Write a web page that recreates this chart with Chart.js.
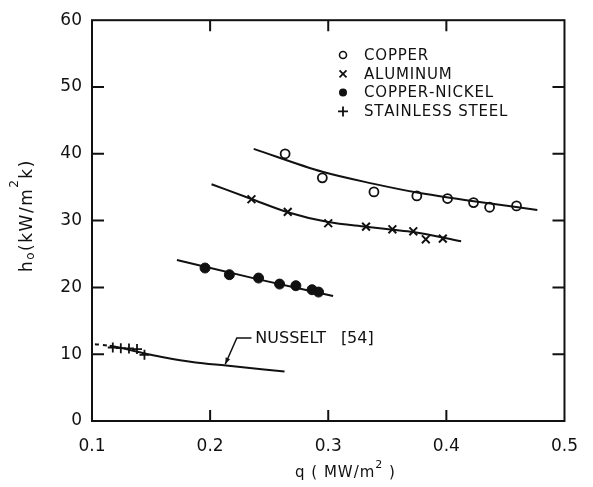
<!DOCTYPE html>
<html lang="en">
<head>
<meta charset="UTF-8">
<title>h0 vs q</title>
<style>
  body { margin: 0; background: #fff; }
  #wrap { width: 593px; height: 487px; }
</style>
<script src="https://cdn.jsdelivr.net/npm/chart.js"></script>
</head>
<body>
<div id="wrap"><canvas id="chart" width="593" height="487"></canvas></div>
<script>
// values: q in MW/m2, h0 in kW/m2K
const copperQ = [0.2635, 0.295, 0.3387, 0.375, 0.401, 0.423, 0.4366, 0.4594];
const copperH = [40.0, 36.4, 34.3, 33.7, 33.3, 32.7, 32.0, 32.2];
const aluminumQ = [0.235, 0.2657, 0.300, 0.332, 0.3543, 0.372, 0.3826, 0.397];
const aluminumH = [33.2, 31.3, 29.6, 29.1, 28.7, 28.4, 27.2, 27.3];
const cuNiQ = [0.1957, 0.2163, 0.241, 0.2588, 0.2726, 0.2863, 0.2918];
const cuNiH = [22.9, 21.9, 21.4, 20.5, 20.25, 19.65, 19.3];
const steelQ = [0.1176, 0.1244, 0.1313, 0.1381, 0.1444];
const steelH = [11.0, 10.9, 10.86, 10.77, 9.9];

// fitted curves drawn through the data
const copperFitQ = [0.2369, 0.2951, 0.3387, 0.3752, 0.4232, 0.4770];
const copperFitH = [40.74, 37.3, 35.5, 34.2, 32.9, 31.6];
const aluminumFitQ = [0.2012, 0.235, 0.2657, 0.300, 0.332, 0.3543, 0.372, 0.4125];
const aluminumFitH = [35.45, 33.23, 31.26, 29.78, 29.08, 28.64, 28.3, 26.92];
const cuNiFitQ = [0.1719, 0.241, 0.3041];
const cuNiFitH = [24.1, 21.2, 18.7];
const nusseltQ = [0.1025, 0.115, 0.145, 0.1615, 0.1862, 0.2136, 0.263];
const nusseltH = [11.5, 11.25, 10.1, 9.5, 8.8, 8.3, 7.4];

const xTicks = [0.1, 0.2, 0.3, 0.4, 0.5];
const yTicks = [0, 10, 20, 30, 40, 50, 60];
const legendLabels = ['COPPER', 'ALUMINUM', 'COPPER-NICKEL', 'STAINLESS STEEL'];

const INK = '#111';
const FONT = '"DejaVu Sans", Arial, sans-serif';

const toPts = (xs, ys) => xs.map((x, i) => ({ x: x, y: ys[i] }));

function spaced(ctx, text, x, y, sp) {
    for (const ch of text) {
        ctx.fillText(ch, x, y);
        x += ctx.measureText(ch).width + sp;
    }
    return x;
}

function marker(ctx, kind, x, y) {
    ctx.beginPath();
    if (kind === 0) {
        ctx.lineWidth = 1.6;
        ctx.arc(x, y, 3.5, 0, Math.PI * 2);
        ctx.stroke();
    } else if (kind === 1) {
        ctx.lineWidth = 1.8;
        ctx.moveTo(x - 3.5, y - 3.5); ctx.lineTo(x + 3.5, y + 3.5);
        ctx.moveTo(x + 3.5, y - 3.5); ctx.lineTo(x - 3.5, y + 3.5);
        ctx.stroke();
    } else if (kind === 2) {
        ctx.arc(x, y, 4, 0, Math.PI * 2);
        ctx.fill();
    } else {
        ctx.lineWidth = 1.8;
        ctx.moveTo(x - 5, y); ctx.lineTo(x + 5, y);
        ctx.moveTo(x, y - 5); ctx.lineTo(x, y + 5);
        ctx.stroke();
    }
}

const decor = {
    id: 'decor',
    afterDraw(chart) {
        const { ctx, chartArea: a, scales } = chart;
        const sx = scales.x, sy = scales.y;
        ctx.save();
        ctx.strokeStyle = INK;
        ctx.fillStyle = INK;

        // frame
        ctx.lineWidth = 2;
        ctx.strokeRect(a.left, a.top, a.right - a.left, a.bottom - a.top);

        // inward ticks on all four sides
        ctx.beginPath();
        xTicks.slice(1, -1).forEach(v => {
            const px = sx.getPixelForValue(v);
            ctx.moveTo(px, a.bottom); ctx.lineTo(px, a.bottom - 11);
            ctx.moveTo(px, a.top); ctx.lineTo(px, a.top + 11);
        });
        yTicks.slice(1, -1).forEach(v => {
            const py = sy.getPixelForValue(v);
            ctx.moveTo(a.left, py); ctx.lineTo(a.left + 12, py);
            ctx.moveTo(a.right, py); ctx.lineTo(a.right - 12, py);
        });
        ctx.stroke();

        // legend
        ctx.font = '15px ' + FONT;
        ctx.textBaseline = 'middle';
        legendLabels.forEach((t, i) => {
            const y = 55 + i * 18.8;
            marker(ctx, i, 343, y);
            spaced(ctx, t, 364, y + 1, 0.8);
        });

        // Nusselt label with leader arrow
        const lx = [0.235, 0.2226, 0.2128];
        const ly = [12.44, 12.44, 8.5];
        ctx.lineWidth = 1.5;
        ctx.beginPath();
        lx.forEach((q, i) => {
            const px = sx.getPixelForValue(q), py = sy.getPixelForValue(ly[i]);
            i ? ctx.lineTo(px, py) : ctx.moveTo(px, py);
        });
        ctx.stroke();
        const tipX = sx.getPixelForValue(lx[2]), tipY = sy.getPixelForValue(ly[2]);
        const ang = Math.atan2(tipY - sy.getPixelForValue(ly[1]), tipX - sx.getPixelForValue(lx[1]));
        ctx.beginPath();
        ctx.moveTo(tipX, tipY);
        ctx.lineTo(tipX - 7 * Math.cos(ang - 0.35), tipY - 7 * Math.sin(ang - 0.35));
        ctx.lineTo(tipX - 7 * Math.cos(ang + 0.35), tipY - 7 * Math.sin(ang + 0.35));
        ctx.closePath();
        ctx.fill();
        ctx.font = '16px ' + FONT;
        ctx.textBaseline = 'middle';
        ctx.fillText('NUSSELT', sx.getPixelForValue(0.2383), sy.getPixelForValue(12.37));
        ctx.fillText('[54]', sx.getPixelForValue(0.3107), sy.getPixelForValue(12.37));

        // x axis title: q (MW/m2)
        ctx.textBaseline = 'alphabetic';
        ctx.font = '15px ' + FONT;
        let x = spaced(ctx, 'q ( MW/m', 295, 477, 1);
        ctx.font = '11px ' + FONT;
        x = spaced(ctx, '2', x, 468, 1);
        ctx.font = '15px ' + FONT;
        spaced(ctx, ' )', x, 477, 1);

        // y axis title: h0 (kW/m2 k)
        ctx.translate(32, 272);
        ctx.rotate(-Math.PI / 2);
        ctx.font = '17px ' + FONT;
        x = spaced(ctx, 'h', 0, 0, 1.5);
        ctx.font = '12px ' + FONT;
        x = spaced(ctx, 'o', x, 2, 1.5);
        ctx.font = '17px ' + FONT;
        x = spaced(ctx, '(kW/m', x, 0, 1.5);
        ctx.font = '12px ' + FONT;
        x = spaced(ctx, '2', x, -14, 1.5);
        ctx.font = '17px ' + FONT;
        spaced(ctx, 'k)', x, 0, 1.5);

        ctx.restore();
    }
};

const fitLine = (xs, ys) => ({
    data: toPts(xs, ys),
    showLine: true,
    pointRadius: 0,
    borderColor: INK,
    borderWidth: 2,
    cubicInterpolationMode: 'monotone',
    fill: false
});

const points = (xs, ys, style, extra) => Object.assign({
    data: toPts(xs, ys),
    showLine: false,
    pointStyle: style,
    borderColor: INK,
    backgroundColor: INK
}, extra);

const nusselt = fitLine(nusseltQ, nusseltH);
nusselt.segment = { borderDash: c => c.p0DataIndex === 0 ? [4, 4] : undefined };

new Chart(document.getElementById('chart'), {
    type: 'scatter',
    data: {
        datasets: [
            fitLine(copperFitQ, copperFitH),
            fitLine(aluminumFitQ, aluminumFitH),
            fitLine(cuNiFitQ, cuNiFitH),
            nusselt,
            points(copperQ, copperH, 'circle', { pointRadius: 4.5, borderWidth: 1.8, backgroundColor: '#fff' }),
            points(aluminumQ, aluminumH, 'crossRot', { pointRadius: 5.5, borderWidth: 2 }),
            points(cuNiQ, cuNiH, 'circle', { pointRadius: 5, borderWidth: 1 }),
            points(steelQ, steelH, 'cross', { pointRadius: 5, borderWidth: 1.8 })
        ]
    },
    options: {
        responsive: false,
        animation: false,
        events: [],
        layout: { padding: { top: 16, right: 15, left: 0, bottom: 0 } },
        plugins: { legend: { display: false }, tooltip: { enabled: false } },
        scales: {
            x: {
                type: 'linear',
                min: 0.1,
                max: 0.5,
                border: { display: false },
                grid: { display: false, drawTicks: false },
                ticks: {
                    stepSize: 0.1,
                    padding: 15,
                    color: INK,
                    font: { family: FONT, size: 17 },
                    callback: v => v.toFixed(1)
                },
                afterFit: s => { s.height = 66; }
            },
            y: {
                min: 0,
                max: 60,
                border: { display: false },
                grid: { display: false, drawTicks: false },
                ticks: {
                    stepSize: 10,
                    padding: 10,
                    color: INK,
                    font: { family: FONT, size: 17 }
                },
                afterFit: s => { s.width = 92; }
            }
        }
    },
    plugins: [decor]
});
</script>
</body>
</html>
